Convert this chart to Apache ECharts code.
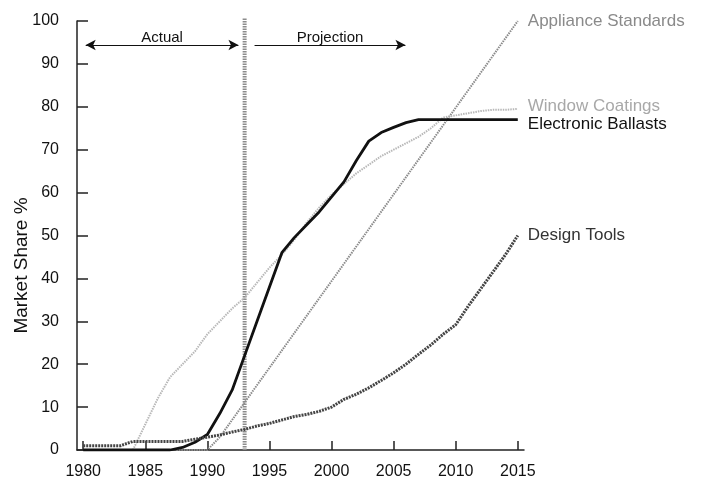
<!DOCTYPE html>
<html>
<head>
<meta charset="utf-8">
<script src="https://cdn.jsdelivr.net/npm/echarts@6/dist/echarts.min.js"></script>
<style>html,body{margin:0;padding:0;background:#fff}#c{width:703px;height:477px}</style>
</head>
<body>
<div id="c"></div>
<script>
// ---- data ----
const tickYears = [1980, 1985, 1990, 1995, 2000, 2005, 2010, 2015];
const yearsFull = [1980,1981,1982,1983,1984,1985,1986,1987,1988,1989,1990,1991,1992,1993,1994,1995,1996,1997,1998,1999,2000,2001,2002,2003,2004,2005,2006,2007,2008,2009,2010,2011,2012,2013,2014,2015];
const ballastsValues = [0,0,0,0,0,0,0,0,0.6,1.8,3.6,8.5,14,22,30,38,46,49.5,52.5,55.5,59,62.5,67.5,72,74,75.2,76.3,77,77,77,77,77,77,77,77,77];
const designValues = [1,1,1,1,2,2,2,2,2,2.5,3,3.5,4.2,4.8,5.6,6.2,7,7.8,8.3,9,10,11.8,13,14.5,16.2,18,20,22.3,24.5,27,29.2,33.5,37.5,41.5,45.5,50];
const windowYears = [1984,1985,1986,1987,1988,1989,1990,1991,1992,1993,1994,1995,1996,1997,1998,1999,2000,2001,2002,2003,2004,2005,2006,2007,2008,2009,2010,2011,2012,2013,2014,2015];
const windowValues = [0,6,12,17,20,23,27,30,33,35.5,39,42.5,45.5,49,53,56.5,59.5,62,64.5,66.5,68.5,70,71.5,73,75,77.5,78,78.5,79,79.3,79.3,79.5];
const applianceYears = [1987.5, 1990, 1991, 2015];
const applianceValues = [0, 0, 3, 100];
const dividerYear = 1993;
const dividerSpan = [0, 100.7];
const actualSpan = [1980.2, 1992.5];
const projectionSpan = [1993.8, 2005.95];
const arrowLevel = 94.4;
const seriesNames = ['Appliance Standards', 'Window Coatings', 'Electronic Ballasts', 'Design Tools'];

const pairs = (xs, ys) => xs.map((x, i) => [x, ys[i]]);
const FONT = '"Liberation Sans", Arial, Helvetica, sans-serif';

const chart = echarts.init(document.getElementById('c'), null, {renderer: 'canvas'});

function lineSeries(name, data, color, width, type, textColor, offY) {
  return {
    name, type: 'line', data, showSymbol: false, symbol: 'none', smooth: false,
    lineStyle: {color, width, type, cap: 'butt', join: 'round'},
    itemStyle: {color},
    endLabel: {show: true, formatter: name, color: textColor, fontSize: 17, fontFamily: FONT, distance: 10, offset: [0, offY]},
    emphasis: {disabled: true}, silent: true, z: 3
  };
}

chart.setOption({
  animation: false,
  backgroundColor: '#fff',
  grid: {left: 77, right: 179, top: 21, bottom: 27, containLabel: false, outerBoundsMode: 'none'},
  xAxis: {
    type: 'value', min: 1979.5, max: 2015.5,
    splitLine: {show: false},
    axisLine: {show: true, onZero: false, lineStyle: {color: '#222', width: 1.5}},
    axisTick: {show: true, inside: true, length: 9, customValues: tickYears, lineStyle: {color: '#222', width: 1.5}},
    axisLabel: {customValues: tickYears, color: '#111', fontSize: 16, fontFamily: FONT, margin: 14, formatter: v => String(v)}
  },
  yAxis: {
    type: 'value', min: 0, max: 100, interval: 10,
    name: 'Market Share %', nameLocation: 'middle', nameGap: 46, nameMoveOverlap: false,
    nameTextStyle: {color: '#111', fontSize: 19, fontFamily: FONT, padding: [0, 60, 0, 0]},
    splitLine: {show: false},
    axisLine: {show: true, lineStyle: {color: '#222', width: 1.5}},
    axisTick: {show: true, inside: true, length: 11, lineStyle: {color: '#222', width: 1.5}},
    axisLabel: {color: '#111', fontSize: 16, fontFamily: FONT, margin: 18}
  },
  series: [
    lineSeries(seriesNames[0], pairs(applianceYears, applianceValues), '#8a8a8a', 2, [1.5, 1], '#8a8a8a', 0),
    lineSeries(seriesNames[1], pairs(windowYears, windowValues), '#b8b8b8', 2, [1.5, 1], '#a8a8a8', -3),
    lineSeries(seriesNames[2], pairs(yearsFull, ballastsValues), '#111', 2.8, 'solid', '#111', 5),
    lineSeries(seriesNames[3], pairs(yearsFull, designValues), '#444', 3, [2, 1], '#333', 0),
    {
      name: 'divider', type: 'line', data: [[dividerYear, dividerSpan[0]], [dividerYear, dividerSpan[1]]],
      showSymbol: false, symbol: 'none', clip: false, silent: true, z: 2,
      lineStyle: {color: '#8c8c8c', width: 4, type: [1.5, 1]},
      markLine: {
        silent: true, animation: false, symbolSize: [8, 10],
        lineStyle: {color: '#111', width: 1.2, type: 'solid'},
        label: {show: true, position: 'middle', color: '#111', fontSize: 15, fontFamily: FONT, distance: 0},
        data: [
          [{coord: [actualSpan[0], arrowLevel], symbol: 'arrow', name: 'Actual'}, {coord: [actualSpan[1], arrowLevel], symbol: 'arrow'}],
          [{coord: [projectionSpan[0], arrowLevel], symbol: 'none', name: 'Projection'}, {coord: [projectionSpan[1], arrowLevel], symbol: 'arrow'}]
        ]
      }
    }
  ]
});
</script>
</body>
</html>
